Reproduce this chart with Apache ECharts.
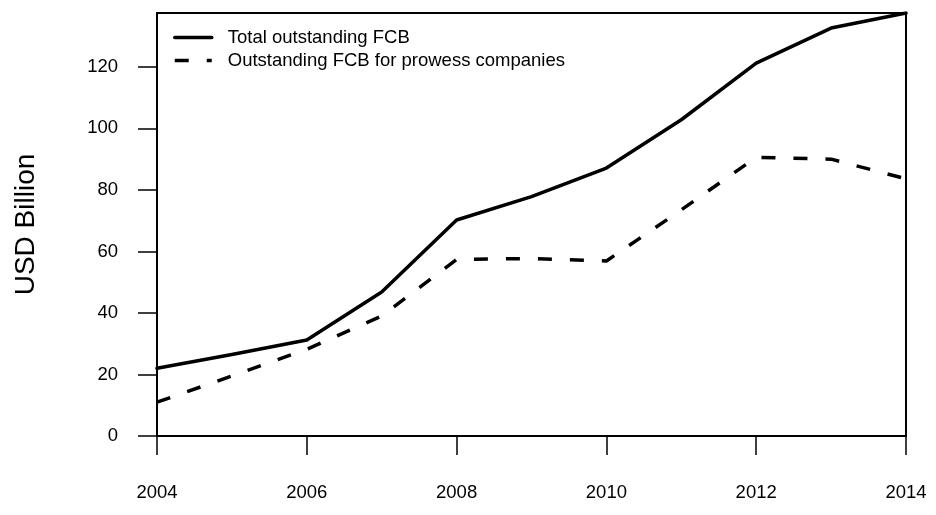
<!DOCTYPE html>
<html>
<head>
<meta charset="utf-8">
<script src="https://cdn.jsdelivr.net/npm/echarts@6/dist/echarts.min.js"></script>
<style>
html,body{margin:0;padding:0;background:#fff;}
#chart{width:936px;height:515px;}
</style>
</head>
<body>
<div id="chart"></div>
<script>
var years = [2004, 2005, 2006, 2007, 2008, 2009, 2010, 2011, 2012, 2013, 2014];
var totalFCB = [22.0, 26.5, 31.2, 46.8, 70.2, 77.8, 87.1, 102.8, 121.2, 132.6, 137.5];
var prowessFCB = [11.0, 19.5, 28.2, 39.0, 57.4, 57.7, 56.9, 73.5, 90.6, 90.0, 83.6];
var yTicks = [0, 20, 40, 60, 80, 100, 120];
var xTicks = [2004, 2006, 2008, 2010, 2012, 2014];
var seriesNames = ['Total outstanding FCB', 'Outstanding FCB for prowess companies'];

var font = 'Liberation Sans, Arial, sans-serif';
var chart = echarts.init(document.getElementById('chart'), null, {renderer: 'canvas'});

function pairs(vals) {
  return years.map(function (y, i) { return [y, vals[i]]; });
}

chart.setOption({
  animation: false,
  backgroundColor: '#fff',
  grid: {
    left: 157, right: 30, top: 13, bottom: 79,
    show: true, borderColor: '#000', borderWidth: 2, backgroundColor: 'transparent'
  },
  legend: {
    left: 173, top: 28, orient: 'vertical', padding: 0,
    itemWidth: 37, itemHeight: 18, itemGap: 4,
    data: seriesNames,
    itemStyle: {color: 'transparent', borderColor: 'transparent', borderWidth: 0},
    lineStyle: {width: 3.5, color: '#000'},
    textStyle: {fontFamily: font, fontSize: 18.5, color: '#000', padding: [0, 0, 0, 11]}
  },
  xAxis: {
    type: 'value', min: 2004, max: 2014, interval: 2,
    axisLine: {show: true, lineStyle: {color: '#000', width: 2}},
    axisTick: {show: true, length: 19, lineStyle: {color: '#000', width: 1.5}, customValues: xTicks},
    axisLabel: {customValues: xTicks, margin: 47, fontFamily: font, fontSize: 18.5, color: '#000',
      formatter: function (v) { return String(v); }},
    splitLine: {show: false}
  },
  yAxis: {
    type: 'value', min: 0, max: 137.5,
    name: 'USD Billion', nameLocation: 'middle', nameGap: 117, nameRotate: 90,
    nameTextStyle: {fontFamily: font, fontSize: 28, color: '#000'},
    axisLine: {show: true, lineStyle: {color: '#000', width: 2}},
    axisTick: {show: true, length: 19, lineStyle: {color: '#000', width: 1.5}, customValues: yTicks},
    axisLabel: {customValues: yTicks, margin: 39, fontFamily: font, fontSize: 18.5, color: '#000'},
    splitLine: {show: false}
  },
  series: [
    {
      name: seriesNames[0], type: 'line', data: pairs(totalFCB),
      symbol: 'none', showSymbol: false,
      lineStyle: {color: '#000', width: 3.5, type: 'solid', cap: 'round', join: 'round'},
      itemStyle: {color: '#000'}
    },
    {
      name: seriesNames[1], type: 'line', data: pairs(prowessFCB),
      symbol: 'none', showSymbol: false,
      lineStyle: {color: '#000', width: 3.5, type: [14, 18], cap: 'butt', join: 'round'},
      itemStyle: {color: '#000'}
    }
  ]
});
</script>
</body>
</html>
